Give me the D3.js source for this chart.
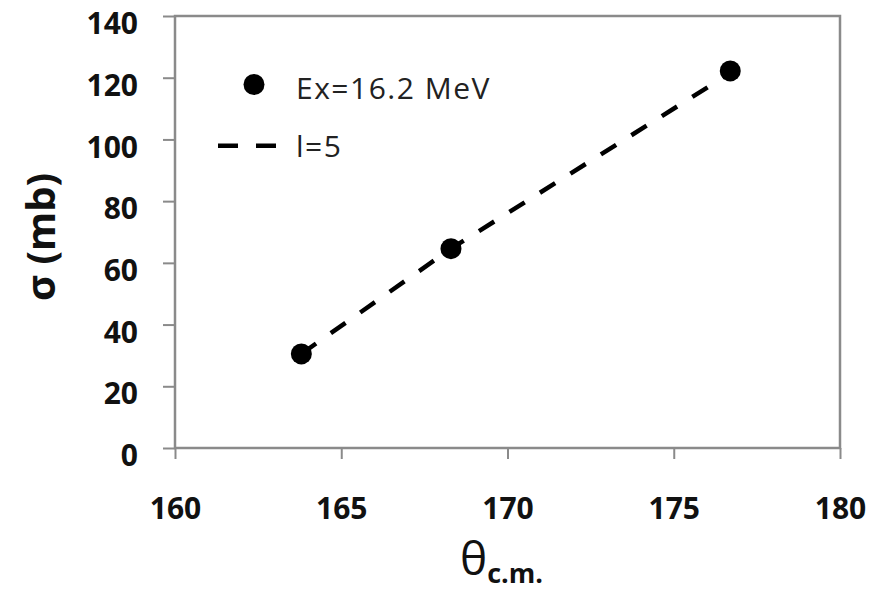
<!DOCTYPE html>
<html>
<head>
<meta charset="utf-8">
<script src="https://cdnjs.cloudflare.com/ajax/libs/d3/7.8.5/d3.min.js"></script>
<style>
  body { margin: 0; background: #fff; }
  svg { display: block; }
  .tick text { font-family: "Open Sans", sans-serif; font-weight: bold; font-size: 30px; fill: #111; }
  .tick line { stroke: #8a8a8a; stroke-width: 2px; }
</style>
</head>
<body>
<div id="chart"></div>
<script>
// measured points Ex=16.2 MeV
const pointX = [163.8, 168.3, 176.7];
const pointY = [30.5, 64.6, 122.2];
// l=5 curve
const lineX = [163.8, 168.3, 176.7];
const lineY = [30.5, 64.6, 121.5];
const xTicks = [160, 165, 170, 175, 180];
const yTicks = [0, 20, 40, 60, 80, 100, 120, 140];

const W = 874, H = 592;
const margin = { top: 16, right: 34, bottom: 144, left: 175 };
const width = W - margin.left - margin.right;
const height = H - margin.top - margin.bottom;

const svg = d3.select("#chart").append("svg")
  .attr("width", W)
  .attr("height", H);

const g = svg.append("g")
  .attr("transform", "translate(" + margin.left + "," + margin.top + ")");

const x = d3.scaleLinear().domain([160, 180]).range([0, width]);
const y = d3.scaleLinear().domain([0, 140]).range([height, 0]);

// axes
const yAxis = g.append("g")
  .call(d3.axisLeft(y).tickValues(yTicks).tickSize(12).tickPadding(25));
yAxis.select(".domain").remove();
yAxis.selectAll("text").attr("y", 8);

const xAxis = g.append("g")
  .attr("transform", "translate(0," + height + ")")
  .call(d3.axisBottom(x).tickValues(xTicks).tickSize(11).tickPadding(39));
xAxis.select(".domain").remove();

// plot frame
g.append("rect")
  .attr("x", 0).attr("y", 0)
  .attr("width", width).attr("height", height)
  .attr("fill", "none")
  .attr("stroke", "#8a8a8a")
  .attr("stroke-width", 2.5);

// dashed l=5 line
const line = d3.line()
  .x((d, i) => x(lineX[i]))
  .y((d, i) => y(lineY[i]));

g.append("path")
  .datum(lineX)
  .attr("d", line)
  .attr("fill", "none")
  .attr("stroke", "#000")
  .attr("stroke-width", 4.5)
  .attr("stroke-dasharray", "18,18");

// data points
g.selectAll(".pt")
  .data(pointX)
  .enter()
  .append("circle")
  .attr("class", "pt")
  .attr("cx", d => x(d))
  .attr("cy", (d, i) => y(pointY[i]))
  .attr("r", 10.5)
  .attr("fill", "#000");

// legend
const leg = svg.append("g");
leg.append("circle")
  .attr("cx", 254).attr("cy", 84.5).attr("r", 10.5).attr("fill", "#000");
leg.append("line")
  .attr("x1", 218).attr("x2", 277)
  .attr("y1", 145.7).attr("y2", 145.7)
  .attr("stroke", "#000")
  .attr("stroke-width", 4.5)
  .attr("stroke-dasharray", "20,18");
leg.append("text")
  .attr("x", 296).attr("y", 98.5)
  .style("font-family", "Open Sans, sans-serif")
  .style("font-size", "30px")
  .style("letter-spacing", "1.5px")
  .style("fill", "#222")
  .text("Ex=16.2 MeV");
leg.append("text")
  .attr("x", 296).attr("y", 157)
  .style("font-family", "Open Sans, sans-serif")
  .style("font-size", "30px")
  .style("letter-spacing", "1.5px")
  .style("fill", "#222")
  .text("l=5");

// axis titles
svg.append("text")
  .attr("transform", "translate(55,237) rotate(-90)")
  .attr("text-anchor", "middle")
  .style("font-family", "Open Sans, sans-serif")
  .style("font-weight", "bold")
  .style("font-size", "40px")
  .style("fill", "#111")
  .text("σ (mb)");

const xt = svg.append("text")
  .attr("x", 460).attr("y", 575)
  .style("font-family", "Open Sans, sans-serif")
  .style("fill", "#111");
xt.append("tspan")
  .style("font-size", "46px")
  .text("θ");
xt.append("tspan")
  .attr("y", 583)
  .style("font-size", "27px")
  .style("font-weight", "bold")
  .text("c.m.");
</script>
</body>
</html>
